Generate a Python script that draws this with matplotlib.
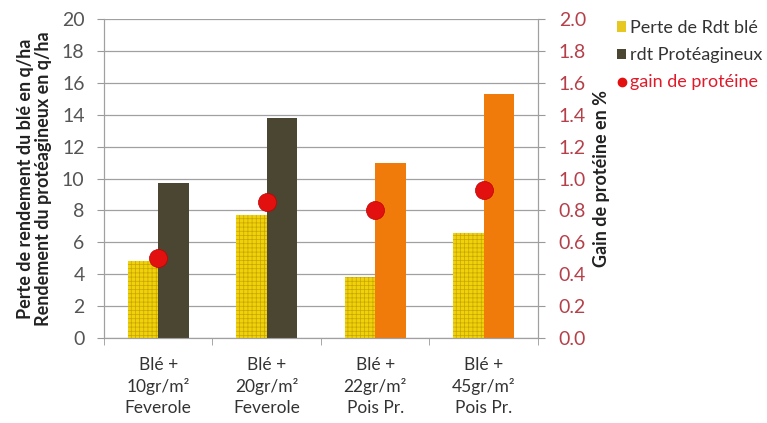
import matplotlib
matplotlib.use("Agg")
import matplotlib.pyplot as plt
import numpy as np
from matplotlib.lines import Line2D
from matplotlib.patches import Patch

plt.rcParams['font.family'] = ['Lato', 'DejaVu Sans']
plt.rcParams['hatch.linewidth'] = 0.5

categories = ["Blé +\n10gr/m²\nFeverole", "Blé +\n20gr/m²\nFeverole",
              "Blé +\n22gr/m²\nPois Pr.", "Blé +\n45gr/m²\nPois Pr."]
perte_rdt_ble = [4.8, 7.7, 3.8, 6.6]
rdt_proteagineux = [9.7, 13.8, 11.0, 15.3]
gain_proteine = [0.50, 0.85, 0.80, 0.93]
prot_colors = ["#4b4631", "#4b4631", "#f07a0a", "#f07a0a"]

fig = plt.figure(figsize=(7.67, 4.23), dpi=100)
ax = fig.add_axes([0.1356, 0.201, 0.5658, 0.754])
ax2 = ax.twinx()

x = np.arange(len(categories))
w = 0.28
ax.bar(x - w/2, perte_rdt_ble, w, color="#f0d20c", edgecolor="#c9a400",
       hatch="++++", linewidth=0, zorder=3)
ax.bar(x + w/2, rdt_proteagineux, w, color=prot_colors, linewidth=0, zorder=3)
ax2.plot(x, gain_proteine, 'o', color="#e31010", markersize=13,
         markeredgecolor="#c00000", markeredgewidth=0.5, zorder=5)

ax.set_xlim(-0.5, 3.5)
ax.set_ylim(0, 20)
ax.set_yticks(np.arange(0, 21, 2))
ax2.set_ylim(0, 2.0)
ax2.set_yticks(np.arange(0, 2.01, 0.2))
ax2.set_yticklabels([f"{v:.1f}" for v in np.arange(0, 2.01, 0.2)])

ax.grid(axis='y', color="#a0a0a0", linewidth=0.9, zorder=0)
ax.set_axisbelow(True)
ax.set_xticks(np.arange(-0.5, 3.6, 1.0), minor=True)
ax.set_xticks(x)
ax.set_xticklabels(categories, fontsize=12.5, color="#333333", linespacing=1.35)
ax.tick_params(axis='x', which='major', length=0, pad=14)
ax.tick_params(axis='x', which='minor', length=5, color="#999999")
ax.tick_params(axis='y', length=5, color="#999999", labelsize=14, labelcolor="#555555", pad=9)
ax2.tick_params(axis='y', length=5, color="#999999", labelsize=14, labelcolor="#b5404a", pad=10)

for a in (ax, ax2):
    a.spines['top'].set_visible(False)
    for s in ('left', 'right', 'bottom'):
        a.spines[s].set_color("#a0a0a0")

ax.set_ylabel("Perte de rendement du blé en q/ha\nRendement du protéagineux en q/ha",
              fontsize=13, fontweight='bold', color="#222222", labelpad=7,
              linespacing=1.12)
ax2.set_ylabel("Gain de protéine en %", fontsize=13, fontweight='bold',
               color="#222222", labelpad=5)

handles = [
    Patch(facecolor="#e6c821", edgecolor="#c9a800", linewidth=0),
    Patch(facecolor="#4b4631"),
    Line2D([], [], marker='o', linestyle='', color="#e31010", markersize=6),
]
labels = ["Perte de Rdt blé", "rdt Protéagineux", "gain de protéine"]
leg = fig.legend(handles, labels, loc='upper left', bbox_to_anchor=(0.795, 0.97),
                 frameon=False, fontsize=13, handlelength=0.5, handleheight=0.5,
                 handletextpad=0.2, labelspacing=0.62, borderaxespad=0)
for t, c in zip(leg.get_texts(), ["#333333", "#333333", "#e01a2a"]):
    t.set_color(c)

fig.savefig("out.png", dpi=100)
